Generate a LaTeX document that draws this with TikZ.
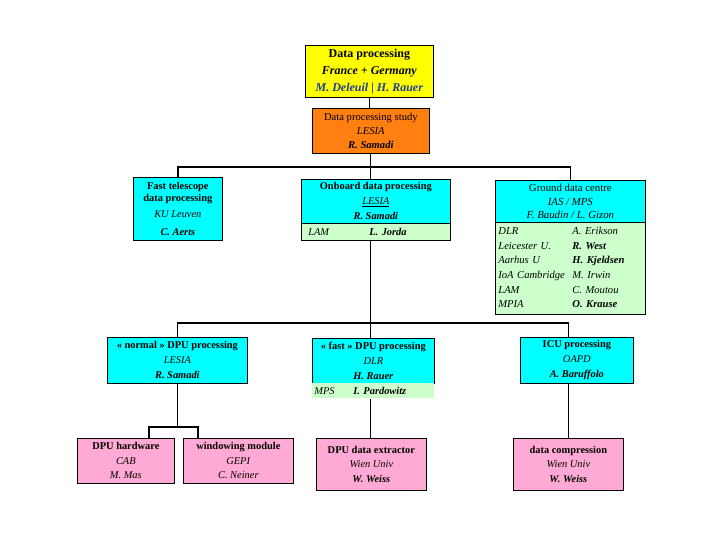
\documentclass[tikz,border=0pt]{standalone}
\usepackage{fontspec}
\setmainfont{Liberation Serif}
\usepackage{xcolor}
\usetikzlibrary{positioning}
\definecolor{dpyellow}{HTML}{FFFF00}
\definecolor{dporange}{HTML}{FF8010}
\definecolor{dpcyan}{HTML}{00FFFF}
\definecolor{dpgreen}{HTML}{CCFFCC}
\definecolor{dppink}{HTML}{FFAAD4}
\definecolor{dpblue}{HTML}{1F3D99}
\tikzset{%
	unit/.style     = {draw, line width=0.7pt, rectangle, anchor=north west, inner sep=0pt, align=center, font=\fontsize{10.4}{15}\selectfont},
	head/.style     = {unit, fill=dpyellow, font=\fontsize{12}{17}\selectfont},
	study/.style    = {unit, fill=dporange, font=\fontsize{10.6}{14}\selectfont},
	task/.style     = {unit, fill=dpcyan},
	member/.style   = {unit, fill=dpgreen, align=left},
	module/.style   = {unit, fill=dppink, font=\fontsize{10.4}{14.5}\selectfont},
	link/.style     = {line width=1.6pt},
	spine/.style    = {line width=0.9pt},
}
\begin{document}
\begin{tikzpicture}[x=1pt,y=-1pt]
		\useasboundingbox (0,0) rectangle (720,540);
		\coordinate (busA) at (0,167);  % upper bus
		\coordinate (busB) at (0,323);  % lower bus
		\coordinate (forkL) at (149,427);
		\coordinate (forkR) at (198,427);
		% top
		\node[head, minimum width=128pt, minimum height=52pt] (dp) at (305,45) {\textbf{Data processing}\\ \textbf{\textit{France + Germany}}\\ \textcolor{dpblue}{\textbf{\textit{M. Deleuil | H. Rauer}}}};
		\node[study, minimum width=117pt, minimum height=45pt] (dps) at (312,108) {Data processing study\\ \textit{LESIA}\\ \textbf{\textit{R. Samadi}}};
		% second row
		\node[task, minimum width=89pt, minimum height=63pt, font=\fontsize{10.4}{12}\selectfont] (fasttel) at (133,177) {\textbf{Fast telescope}\\ \textbf{data processing}\\[4pt] \textit{KU Leuven}\\[6pt] \textbf{\textit{C. Aerts}}};
		\node[task, minimum width=149pt, minimum height=44pt] (onboard) at (301,179) {\textbf{Onboard data processing}\\ \textit{\underline{LESIA}}\\ \textbf{\textit{R. Samadi}}};
		\node[member, minimum height=17pt, text width=135pt, inner xsep=7pt] (onboardlam) at (301,223) {\makebox[61pt][l]{\textit{LAM}}\textbf{\textit{L. Jorda}}};
		\node[task, minimum width=150pt, minimum height=42pt, font=\fontsize{10.8}{13.5}\selectfont] (ground) at (495,180) {Ground data centre\\ \textit{IAS / MPS}\\ \textit{F. Baudin / L. Gizon}};
		\node[member, minimum height=92pt, text width=144pt, inner xsep=3pt, font=\fontsize{10.6}{14.6}\selectfont] (groundlist) at (495,222) {%
			\begin{tabular}{@{}p{74pt}@{}l@{}}
				\textit{DLR} & \textit{A. Erikson}\\
				\textit{Leicester U.} & \textbf{\textit{R. West}}\\
				\textit{Aarhus U} & \textbf{\textit{H. Kjeldsen}}\\
				\textit{IoA Cambridge} & \textit{M. Irwin}\\
				\textit{LAM} & \textit{C. Moutou}\\
				\textit{MPIA} & \textbf{\textit{O. Krause}}
			\end{tabular}};
		% third row
		\node[task, minimum width=140pt, minimum height=46pt] (normal) at (107,337) {\textbf{« normal » DPU processing}\\ \textit{LESIA}\\ \textbf{\textit{R. Samadi}}};
		\node[task, minimum width=122pt, minimum height=45pt] (fastdpu) at (312,338) {\textbf{« fast » DPU processing}\\ \textit{DLR}\\ \textbf{\textit{H. Rauer}}};
		\node[member, draw=none, minimum height=15pt, text width=118pt, inner xsep=2pt] (fastdpumps) at (312,383) {\makebox[39pt][l]{\textit{MPS}}\textbf{\textit{I. Pardowitz}}};
		\node[task, minimum width=113pt, minimum height=46pt] (icu) at (520,337) {\textbf{ICU processing}\\ \textit{OAPD}\\ \textbf{\textit{A. Baruffolo}}};
		% bottom row
		\node[module, minimum width=97pt, minimum height=45pt] (hw) at (77,438) {\textbf{DPU hardware}\\ \textit{CAB}\\ \textit{M. Mas}};
		\node[module, minimum width=110pt, minimum height=45pt] (win) at (183,438) {\textbf{windowing module}\\ \textit{GEPI}\\ \textit{C. Neiner}};
		\node[module, minimum width=110pt, minimum height=52pt] (extract) at (316,438) {\textbf{DPU data extractor}\\ \textit{Wien Univ}\\ \textbf{\textit{W. Weiss}}};
		\node[module, minimum width=110pt, minimum height=52pt] (compress) at (513,438) {\textbf{data compression}\\ \textit{Wien Univ}\\ \textbf{\textit{W. Weiss}}};
		% connectors
		\draw[spine] (dp.south) -- (dp.south |- dps.north);
		\draw[spine] (dps.south) -- (dps.south |- onboard.north);
		\draw[link] (fasttel.north) |- (ground.north |- busA) -- (ground.north);
		\draw[spine] (dps.south |- onboardlam.south) -- (dps.south |- fastdpu.north);
		\draw[link] (normal.north) |- (compress.north |- busB) -- (compress.north |- icu.north);
		\draw[spine] (normal.south) -- (normal.south |- forkL);
		\draw[link] (forkL |- hw.north) -- (forkL) -- (forkR) -- (forkR |- win.north);
		\draw[spine] (dps.south |- fastdpumps.south) -- (dps.south |- extract.north);
		\draw[link] (compress.north |- icu.south) -- (compress.north);
\end{tikzpicture}
\end{document}
